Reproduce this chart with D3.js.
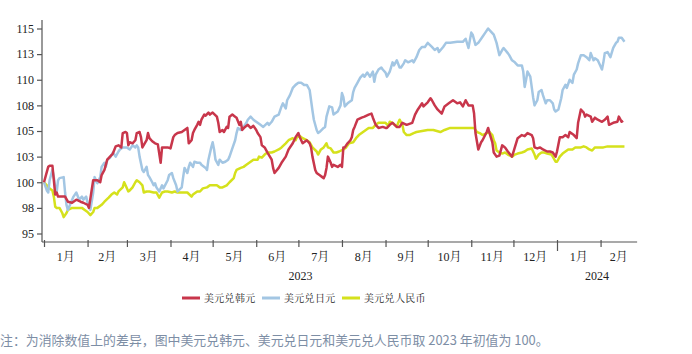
<!DOCTYPE html>
<html>
<head>
<meta charset="utf-8">
<script src="https://cdn.jsdelivr.net/npm/d3@7"></script>
<style>
html,body{margin:0;padding:0;background:#fff;}
svg{display:block;}
</style>
</head>
<body>
<svg id="chart" width="692" height="354"></svg>
<script>
// ---- data: [days since 2023-01-01, index value (2023 start = 100)] ----
const krw = [[0,100],[3,101.5],[4,101.6],[6,101.6],[7,100.2],[8,98.8],[9,99],[10,98.6],[13,98.6],[15,98.6],[17,98.1],[20,98],[22,98.2],[23,98.3],[26,98.1],[28,98],[31,97.8],[32,97.5],[35,100.2],[38,100.2],[40,100],[41,100.7],[43,101.2],[45,102.2],[47,102.5],[49,102.8],[51,103.5],[53,103.6],[55,103.4],[56,104.8],[58,104.9],[59,104.8],[60,103.6],[61,103.9],[63,103.8],[65,104.1],[66,104.8],[68,104.9],[69,104.4],[70,103.4],[73,104.1],[74,104.8],[75,104.3],[77,104],[79,103.8],[81,103.7],[83,101.9],[84,103.4],[85,103.4],[87,103.4],[88,103.4],[90,103.3],[92,104.4],[93,104.6],[95,104.8],[98,104.9],[100,105.1],[102,105.3],[103,103.8],[105,104.1],[106,104.8],[107,105.1],[109,105.6],[110,105.9],[111,105.6],[112,106.1],[114,106.6],[115,106.5],[117,106.8],[118,106.6],[120,106.8],[123,106.4],[124,105.8],[125,104.9],[127,105.1],[128,104.9],[130,105.4],[131,105.3],[132,106.4],[134,106.6],[136,106.4],[137,106.3],[139,105.6],[140,105.9],[141,105.1],[143,105.4],[145,105.6],[147,105.3],[149,105.5],[151,105.1],[152,104.8],[154,104.4],[155,103.6],[157,103.4],[159,102.9],[162,102.2],[163,101.4],[164,100.9],[167,101.4],[169,101.9],[172,102.5],[174,103.2],[177,103.8],[179,104.4],[181,104.8],[182,104.4],[184,103.8],[185,103.9],[187,104.1],[189,103.8],[190,103.4],[191,102.5],[193,101.2],[194,100.9],[196,100.7],[198,100.5],[199,100.4],[200,100.7],[201,101.4],[202,102.5],[204,101.9],[205,101.5],[206,101.7],[209,101.5],[211,101.7],[212,101.5],[213,103.4],[214,103.4],[216,103.8],[218,104.1],[219,104.4],[220,105.1],[221,105.4],[223,106.1],[226,106.3],[228,106.4],[231,106.6],[233,106.7],[234,106.3],[236,105.6],[238,105.3],[241,105.4],[243,105.3],[244,105.3],[246,105.6],[248,105.8],[251,105.4],[253,105.4],[255,105.8],[258,105.6],[262,105.8],[264,106.6],[266,107.1],[269,107.7],[270,107.4],[273,107.8],[275,108.2],[276,108],[278,107.5],[280,107.1],[283,106.7],[285,107.4],[288,107.7],[291,108],[294,107.7],[296,107.8],[298,107.4],[300,108],[302,107.5],[305,107.5],[306,106.7],[307,104.8],[309,103.2],[311,103.9],[312,104.1],[315,104.9],[316,105.3],[317,104.8],[319,103.9],[320,102.9],[322,102.5],[324,102.6],[326,103.6],[328,103.4],[330,103],[333,102.5],[335,103.4],[337,104.3],[340,104.6],[342,104.5],[344,104.8],[347,104.6],[348,104.3],[349,103.4],[351,103.3],[353,103.4],[355,103.2],[358,103],[360,103],[362,102.9],[364,102.5],[365,103],[367,104.4],[369,104.4],[371,104.6],[373,104.4],[374,104.9],[377,104.6],[379,104.3],[380,105.8],[382,107.1],[384,106.8],[385,106.4],[386,106.6],[389,106.4],[390,105.9],[392,106.3],[394,106.1],[397,105.9],[399,106.1],[401,106.4],[402,105.6],[405,105.8],[408,105.9],[409,106.4],[411,105.9],[412,106]];

const jpy = [[0,100],[2,99.2],[3,99],[4,100.2],[6,101.2],[7,100.5],[8,99.5],[9,99],[10,100.2],[11,100.4],[14,100.5],[15,99],[16,97.8],[17,97.3],[20,98.3],[21,98.6],[23,99],[25,98.3],[27,98.6],[28,98.3],[30,98.6],[31,98],[32,97.6],[33,97.3],[35,99],[36,100.5],[37,100.2],[38,99.9],[40,100.5],[41,101.5],[43,101.9],[44,101.5],[45,102.2],[47,102.4],[49,102.9],[51,102.5],[53,103],[54,103.2],[56,103.4],[59,103.4],[61,103.2],[63,103.6],[65,103.4],[66,103.6],[67,103.4],[68,102.5],[70,101.2],[71,101],[73,101.5],[74,100.7],[75,100.5],[77,100],[78,99.7],[79,99.9],[80,99.5],[82,99.1],[84,99.7],[85,99.4],[88,100.2],[89,100.7],[91,100.9],[92,100.4],[94,99.7],[95,99.1],[98,99.5],[99,100.5],[100,101.4],[102,100.9],[103,101.5],[104,101.9],[106,101.5],[107,102],[109,101.9],[111,101.9],[112,101.7],[115,101.4],[116,101.2],[117,102.2],[119,103.4],[120,103.9],[121,103.2],[122,102.2],[124,101.7],[125,102.2],[127,101.9],[129,102],[131,102.2],[132,102.5],[134,103.3],[136,104.1],[137,104.8],[138,105.3],[140,105.1],[142,105.4],[144,105.8],[145,106.1],[147,106.4],[149,106.1],[152,105.8],[154,105.6],[156,105.4],[159,105.8],[160,105.6],[162,105.9],[164,106.4],[167,106.6],[169,107.4],[170,107.7],[172,107.2],[173,108],[175,108.5],[177,109.2],[179,109.5],[181,109.7],[183,109.7],[185,109.5],[187,109.5],[189,109],[190,108],[191,107],[192,106.1],[194,105.1],[195,104.8],[196,104.9],[199,105.3],[200,105.4],[201,106.4],[203,107.4],[205,107.3],[206,106.6],[208,106.8],[209,106.9],[211,107.5],[212,108.7],[213,108.3],[214,107.4],[216,107.7],[217,107.8],[219,108],[220,108.8],[221,109.2],[223,109.7],[225,110.2],[227,110.5],[228,110.3],[230,110.7],[232,110.3],[234,110.8],[235,109.8],[236,110.5],[238,111],[240,111.2],[241,111],[243,110.7],[244,110.3],[246,110.8],[248,111.7],[249,111.4],[251,111.9],[253,111.2],[254,111.2],[256,111.6],[257,111.9],[259,111.7],[262,111.9],[263,111.7],[265,112.2],[267,112.9],[269,113.2],[271,113.2],[273,113.6],[276,113.2],[278,112.9],[280,113.1],[281,112.7],[284,113.2],[286,113.6],[289,113.6],[294,113.7],[298,113.7],[300,114],[302,113.1],[304,114.6],[305,114.4],[307,113.4],[309,113.6],[312,114.2],[314,114.6],[316,115],[318,114.7],[320,114.4],[322,113.6],[324,112.4],[326,112.9],[327,113.1],[330,112.6],[331,112.4],[333,111.9],[335,111.7],[337,111.4],[340,111.4],[341,110.8],[342,109.3],[343,110],[344,110.8],[346,110.3],[347,109.3],[348,108.3],[349,107.5],[351,108],[352,108.8],[354,109],[355,108.5],[357,107.7],[358,108],[360,108],[362,107.7],[363,107.1],[364,106.9],[366,107.1],[368,108.2],[369,109],[371,109.5],[372,109.2],[374,110],[376,109.7],[377,110.5],[379,111],[380,111.6],[382,112.4],[384,112.4],[386,112.2],[388,111.9],[389,112.6],[391,111.9],[392,112.1],[394,111.9],[395,111.6],[397,111],[398,111.7],[399,112.6],[401,112.7],[403,112.2],[405,113.1],[407,113.6],[408,113.7],[409,114.1],[411,114.1],[413,113.7]];

const cny = [[0,100],[2,99.7],[4,99.4],[6,99.2],[7,98.6],[8,97.6],[9,97.5],[11,97.5],[13,97],[14,96.6],[16,97],[17,97.3],[20,97.5],[23,97.5],[27,97.5],[29,97.3],[31,97.1],[33,96.8],[35,97.1],[36,97.5],[38,97.5],[41,97.8],[43,98.1],[46,98.5],[48,98.8],[50,99],[52,98.8],[53,99.1],[56,99.5],[57,100],[58,99.7],[60,99.1],[61,99.2],[63,99.5],[65,100],[66,100.2],[68,100],[70,99.7],[71,99],[73,99.1],[75,99.1],[78,99],[80,99],[82,98.5],[84,99],[86,99.1],[88,99.1],[91,99],[93,99.1],[95,99],[98,99],[100,99],[102,99],[105,98.6],[106,98.8],[109,99.1],[111,99.1],[113,99.4],[116,99.5],[118,99.7],[120,99.7],[123,99.7],[125,99.5],[127,99.5],[130,99.7],[132,100],[135,100.4],[136,100.9],[137,101.2],[140,101.4],[142,101.5],[144,101.7],[147,102],[149,102.2],[152,102.2],[153,102.5],[155,102.4],[157,102.7],[159,102.9],[162,102.9],[164,103],[167,103.2],[169,103.4],[172,103.8],[174,104.1],[177,104.3],[179,104.1],[180,104.4],[182,104.5],[184,104.3],[187,104.1],[189,103.9],[191,103.4],[194,103],[195,102.7],[197,103.2],[199,103.4],[201,103.8],[202,103.4],[204,103.3],[206,102.9],[208,102.9],[210,103],[213,103.2],[215,103.4],[217,103.8],[220,103.9],[222,104.3],[224,104.6],[227,104.9],[229,105.1],[231,105.3],[234,105.3],[236,105.6],[238,105.8],[241,105.8],[243,105.8],[245,105.5],[246,105.9],[248,105.8],[251,105.4],[252,105.8],[253,106.1],[255,105.6],[256,104.9],[258,104.6],[260,104.6],[263,104.8],[265,104.9],[269,105],[273,105.1],[277,105.1],[282,104.9],[285,105.1],[289,105.3],[294,105.3],[298,105.3],[303,105.3],[306,105.3],[308,104.9],[310,104.8],[312,104.6],[315,104.8],[317,104.9],[319,104.6],[320,104.1],[321,103.8],[322,103.1],[324,102.9],[326,102.8],[328,102.9],[330,102.7],[333,102.5],[335,102.7],[337,102.8],[340,102.9],[342,103],[344,103.2],[347,103.3],[349,102.7],[350,102.3],[352,102.7],[354,102.9],[356,102.9],[358,102.8],[361,102.7],[362,102.5],[364,102],[365,102],[367,102.5],[369,102.8],[371,103],[373,103.2],[376,103.2],[378,103.4],[380,103.4],[382,103.4],[384,103.5],[386,103.4],[388,103.2],[390,103.1],[392,103.4],[394,103.4],[398,103.4],[401,103.5],[405,103.5],[409,103.5],[413,103.5]];

const seriesNames = ["美元兑韩元", "美元兑日元", "美元兑人民币"];
const seriesColors = ["#c8364b", "#a3c6e3", "#d5e11c"];
const yTickValues = [95, 97.5, 100, 102.5, 105, 107.5, 110, 112.5, 115];
const yTickLabels = ["95", "98", "100", "103", "105", "108", "110", "113", "115"];
const monthLabels = ["1月","2月","3月","4月","5月","6月","7月","8月","9月","10月","11月","12月","1月","2月"];
const yearLabels = [["2023", "2023-01-01", "2024-01-01"], ["2024", "2024-01-01", "2024-02-27"]];
const noteText = "注：为消除数值上的差异，图中美元兑韩元、美元兑日元和美元兑人民币取 2023 年初值为 100。";

// ---- drawing ----
const svg = d3.select("#chart");
const base = new Date(2023, 0, 1);
const toDate = d => d3.timeDay.offset(base, d);
const endDate = new Date(2024, 1, 27);

const x = d3.scaleTime().domain([base, new Date(2024, 0, 1)]).range([44, 557]);
const y = d3.scaleLinear().domain([95, 115]).range([233.5, 28.5]);
const axisY = 242;
const axisColor = "#555";
const serif = "'Liberation Serif','Times New Roman','Noto Serif CJK SC','Noto Sans CJK SC',serif";

// y axis
const yAxis = d3.axisLeft(y).tickValues(yTickValues)
  .tickFormat((d, i) => yTickLabels[i]).tickSize(5).tickSizeOuter(0);
const gy = svg.append("g").attr("transform", "translate(42,0)").call(yAxis);
gy.select(".domain").remove();
gy.append("line").attr("x1", 0).attr("x2", 0).attr("y1", 20).attr("y2", axisY).attr("stroke", axisColor).attr("stroke-width", 1.2);
gy.selectAll(".tick line").attr("stroke", axisColor).attr("stroke-width", 1.2);
gy.selectAll(".tick text").attr("x", -8).attr("fill", "#222")
  .style("font-family", serif).style("font-size", "12px");

// x axis
const monthStarts = d3.timeMonth.range(base, new Date(2024, 1, 2));
const xAxis = d3.axisBottom(x).tickValues(monthStarts).tickFormat("").tickSize(5).tickSizeOuter(0);
const gx = svg.append("g").attr("transform", `translate(0,${axisY})`).call(xAxis);
gx.select(".domain").remove();
gx.append("line").attr("x1", 42).attr("x2", x(endDate)).attr("y1", 0).attr("y2", 0).attr("stroke", axisColor).attr("stroke-width", 1.2);
gx.selectAll(".tick line").attr("stroke", axisColor).attr("stroke-width", 1.2)
  .attr("y1", -2)
  .attr("y2", d => (d.getMonth() === 0 && d.getFullYear() === 2024) ? 9 : 5);

// month labels centered in each month span
const monthBounds = monthStarts.concat([endDate]);
svg.append("g").selectAll("text").data(monthLabels).join("text")
  .attr("x", (d, i) => (x(monthBounds[i]) + x(monthBounds[i + 1])) / 2)
  .attr("y", 261)
  .attr("text-anchor", "middle")
  .attr("fill", "#222")
  .style("font-family", serif).style("font-size", "12px")
  .text(d => d);

svg.append("g").selectAll("text").data(yearLabels).join("text")
  .attr("x", d => (x(new Date(d[1])) + x(new Date(d[2]))) / 2)
  .attr("y", 280)
  .attr("text-anchor", "middle")
  .attr("fill", "#222")
  .style("font-family", serif).style("font-size", "12px")
  .text(d => d[0]);

// lines
const line = d3.line().x(d => x(toDate(d[0]))).y(d => y(d[1]));
const allSeries = [krw, jpy, cny];
const drawOrder = [2, 1, 0];
drawOrder.forEach(i => {
  svg.append("path").datum(allSeries[i])
    .attr("fill", "none")
    .attr("stroke", seriesColors[i])
    .attr("stroke-width", 2.5)
    .attr("stroke-linejoin", "round")
    .attr("d", line);
});

// legend
const legendX = [182, 262, 342];
const lg = svg.append("g");
seriesNames.forEach((name, i) => {
  lg.append("line").attr("x1", legendX[i]).attr("x2", legendX[i] + 18)
    .attr("y1", 298).attr("y2", 298)
    .attr("stroke", seriesColors[i]).attr("stroke-width", 3);
  lg.append("text").attr("x", legendX[i] + 22).attr("y", 301.5)
    .attr("fill", "#222")
    .style("font-family", "'Noto Serif CJK SC','Noto Sans CJK SC',sans-serif")
    .style("font-size", "10px")
    .style("letter-spacing", "0.3px")
    .text(name);
});

// note
svg.append("text").attr("x", 0).attr("y", 345)
  .attr("fill", "#7d8ea5")
  .style("font-family", "'Noto Sans CJK SC',sans-serif")
  .style("font-size", "12.9px")
  .text(noteText);
</script>
</body>
</html>
